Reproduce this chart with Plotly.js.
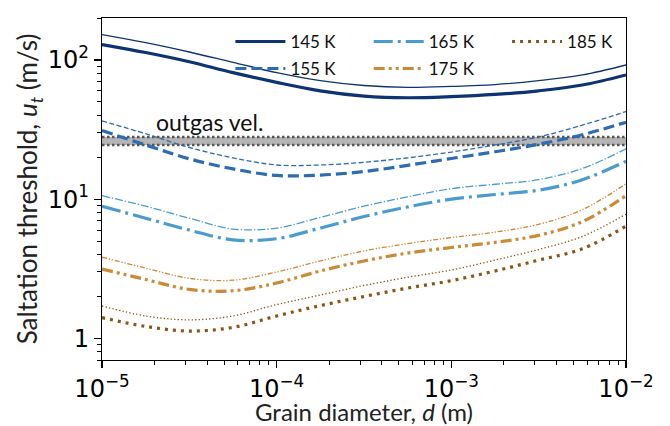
<!DOCTYPE html>
<html>
<head>
<meta charset="utf-8">
<script src="https://cdn.plot.ly/plotly-3.0.1.min.js"></script>
<style>html,body{margin:0;padding:0;background:#fff;}#chart{width:670px;height:426px;}</style>
</head>
<body>
<div id="chart"></div>
<script>
// Grain diameter samples (m)
const diameter = [1e-5, 1.778e-5, 3.162e-5, 5.623e-5, 1e-4, 1.778e-4, 3.162e-4, 5.623e-4, 1e-3, 1.778e-3, 3.162e-3, 5.623e-3, 1e-2];

// Saltation threshold (m/s): thick (lower) and thin (upper) curve per temperature
const t145Thick = [129, 113, 97, 81, 69, 60, 55, 53.5, 54.5, 56.5, 60, 66, 78];
const t145Thin  = [152, 133, 114, 96, 81, 71, 65.5, 63.5, 64.5, 66.5, 71, 78, 92];
const t155Thick = [31.1, 24.5, 19.5, 16.5, 14.8, 14.9, 15.8, 17.5, 19.6, 21.9, 24.8, 29, 35.7];
const t155Thin  = [36.5, 29.5, 23.5, 19.8, 17.6, 17.6, 18.4, 19.8, 21.8, 24.5, 28, 34, 42.6];
const t165Thick = [8.9, 7.3, 6.0, 5.1, 5.2, 6.2, 7.5, 8.8, 10.0, 10.8, 11.6, 13.8, 18.7];
const t165Thin  = [10.6, 8.9, 7.3, 6.1, 6.2, 7.4, 8.9, 10.4, 11.9, 12.8, 13.8, 16.6, 23];
const t175Thick = [3.15, 2.65, 2.25, 2.2, 2.5, 3.05, 3.6, 4.1, 4.5, 4.9, 5.5, 6.9, 10.6];
const t175Thin  = [3.83, 3.2, 2.7, 2.62, 3.0, 3.6, 4.25, 4.8, 5.3, 5.8, 6.6, 8.4, 12.9];
const t185Thick = [1.41, 1.22, 1.13, 1.2, 1.45, 1.72, 2.0, 2.3, 2.6, 3.05, 3.65, 4.4, 6.4];
const t185Thin  = [1.71, 1.45, 1.36, 1.45, 1.75, 2.05, 2.4, 2.75, 3.1, 3.65, 4.35, 5.4, 7.8];

// Outgassing velocity band (m/s)
const outgasX = [1e-5, 1e-2];
const outgasLow = [24.5, 24.5];
const outgasHigh = [28, 28];

const labels = ['145 K', '155 K', '165 K', '175 K', '185 K'];
const xTickVals = [1e-5, 1e-4, 1e-3, 1e-2];
const xTickText = ['10<sup>\u22125</sup>', '10<sup>\u22124</sup>', '10<sup>\u22123</sup>', '10<sup>\u22122</sup>'];
const yTickVals = [1, 10, 100];
const yTickText = ['1', '10<sup>1</sup>', '10<sup>2</sup>'];

const colors = ['#0c3472', '#2b6cb4', '#4a9bd0', '#cc8a35', '#8a5517'];
const thickDash = ['solid', '11px,5px', '19px,5px,3px,5px', '11px,4px,3px,4px,3px,4px', '3px,5px'];
const thinDash  = ['solid', '5px,2.5px', '8px,2px,1.3px,2px', '5px,1.8px,1.3px,1.8px,1.3px,1.8px', '1.3px,2.2px'];
const thickSeries = [t145Thick, t155Thick, t165Thick, t175Thick, t185Thick];
const thinSeries = [t145Thin, t155Thin, t165Thin, t175Thin, t185Thin];
const legendIds = ['legend', 'legend2', 'legend3', 'legend4', 'legend5'];
// legend slot positions (paper fractions)
const legendX = [0.245, 0.245, 0.509, 0.509, 0.773];
const legendY = [0.93, 0.851, 0.93, 0.851, 0.93];

const traces = [];
traces.push({x: outgasX, y: outgasLow, mode: 'lines', showlegend: false, hoverinfo: 'skip',
  line: {color: '#555555', width: 2.5, dash: '2.5px,2.5px'}});
traces.push({x: outgasX, y: outgasHigh, mode: 'lines', showlegend: false, hoverinfo: 'skip',
  fill: 'tonexty', fillcolor: 'rgba(120,120,120,0.55)',
  line: {color: '#555555', width: 2.5, dash: '2.5px,2.5px'}});

for (let i = 0; i < labels.length; i++) {
  traces.push({x: diameter, y: thinSeries[i], mode: 'lines', showlegend: false,
    line: {color: colors[i], width: 1.3, dash: thinDash[i], shape: 'spline', smoothing: 1}});
  traces.push({x: diameter, y: thickSeries[i], mode: 'lines', name: labels[i], legend: legendIds[i],
    line: {color: colors[i], width: 3.2, dash: thickDash[i], shape: 'spline', smoothing: 1}});
}

const axisCommon = {
  type: 'log', showgrid: false, zeroline: false,
  showline: true, linecolor: '#000', linewidth: 1.2, mirror: true,
  ticks: 'outside', ticklen: 7, tickwidth: 1.2, tickcolor: '#000',
  tickmode: 'array',
  minor: {ticks: 'outside', ticklen: 4, tickwidth: 1, tickcolor: '#000', dtick: 'D1', showgrid: false}
};

const layout = {
  width: 670, height: 426,
  margin: {l: 102, r: 44, t: 18, b: 66},
  paper_bgcolor: '#fff', plot_bgcolor: '#fff',
  font: {family: 'Lato, sans-serif', color: '#000'},
  xaxis: Object.assign({}, axisCommon, {
    range: [-5, -2], tickvals: xTickVals, ticktext: xTickText,
    tickfont: {family: 'DejaVu Sans, sans-serif', size: 24, color: '#000'},
    title: {text: 'Grain diameter, <i>d</i> (m)', font: {family: 'Lato, sans-serif', size: 24, color: '#222'}}
  }),
  yaxis: Object.assign({}, axisCommon, {
    range: [Math.log10(0.7), Math.log10(200)], tickvals: yTickVals, ticktext: yTickText,
    tickfont: {family: 'DejaVu Sans, sans-serif', size: 24, color: '#000'},
    title: {text: 'Saltation threshold, <i>u<sub>t</sub></i> (m/s)', font: {family: 'Lato, sans-serif', size: 26, color: '#222'}, standoff: 2}
  }),
  annotations: [{
    text: 'outgas vel.', xref: 'x', yref: 'y', x: -4.70, y: Math.log10(28),
    xanchor: 'left', yanchor: 'bottom', showarrow: false, yshift: -1,
    font: {family: 'Lato, sans-serif', size: 23, color: '#111'}
  }],
  showlegend: true
};
for (let i = 0; i < legendIds.length; i++) {
  layout[legendIds[i]] = {
    x: legendX[i], y: legendY[i], xanchor: 'left', yanchor: 'middle',
    orientation: 'v', bgcolor: 'rgba(0,0,0,0)', borderwidth: 0, itemwidth: 50,
    font: {family: 'Lato, sans-serif', size: 17, color: '#111'}
  };
}

Plotly.newPlot('chart', traces, layout, {displayModeBar: false, staticPlot: true});
</script>
</body>
</html>
